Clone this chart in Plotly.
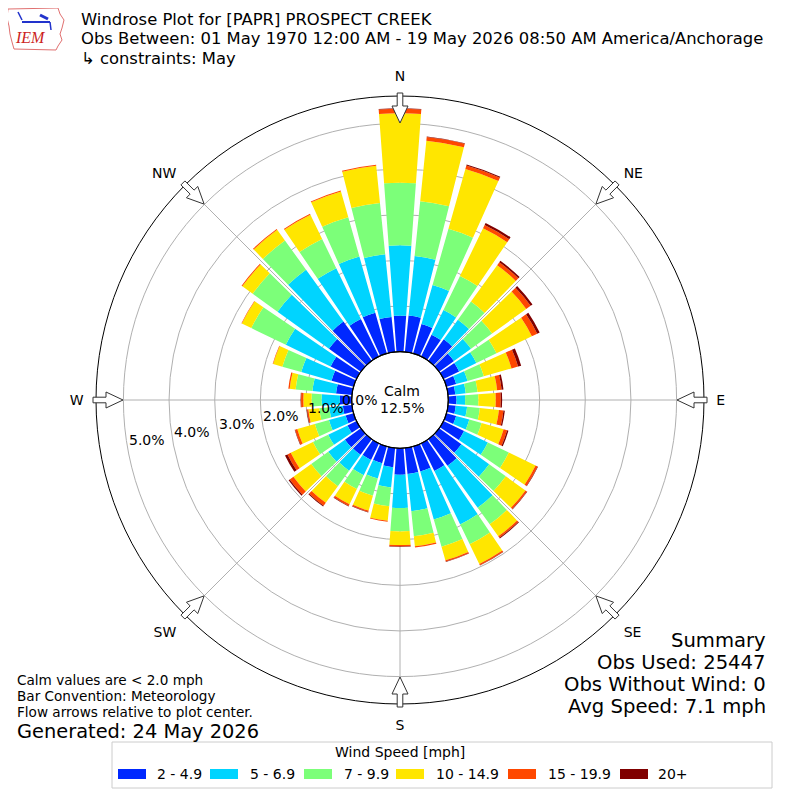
import plotly.graph_objects as go
import math

# ---------------- data ----------------
directions = list(range(0, 360, 10))
speed_bins = ["2 - 4.9", "5 - 6.9", "7 - 9.9", "10 - 14.9", "15 - 19.9", "20+"]
bin_colors = ["#0028ff", "#00d4ff", "#7cff79", "#ffe600", "#ff4800", "#800000"]

# percent frequency per direction (0..350 by 10) for each speed bin
freq_2_5 = [0.79, 0.80, 0.67, 0.53, 0.58, 0.40, 0.38, 0.22, 0.16, 0.18, 0.17, 0.22,
            0.50, 0.60, 0.72, 0.67, 0.57, 0.57, 0.58, 0.42, 0.38, 0.40, 0.42, 0.43,
            0.22, 0.18, 0.20, 0.26, 0.35, 0.50, 0.63, 0.86, 1.06, 0.91, 0.93, 0.77]
freq_5_7 = [1.54, 1.31, 0.89, 0.60, 0.53, 0.46, 0.42, 0.26, 0.23, 0.19, 0.25, 0.30,
            0.58, 0.75, 1.13, 1.30, 1.09, 0.82, 0.73, 0.45, 0.35, 0.37, 0.43, 0.45,
            0.47, 0.38, 0.30, 0.40, 0.52, 0.69, 1.09, 1.39, 1.40, 1.24, 1.28, 1.38]
freq_7_10 = [1.37, 1.21, 1.28, 0.83, 0.49, 0.57, 0.49, 0.37, 0.26, 0.29, 0.28, 0.28,
             0.51, 0.45, 0.45, 0.48, 0.62, 0.55, 0.51, 0.41, 0.39, 0.34, 0.42, 0.46,
             0.37, 0.32, 0.22, 0.22, 0.37, 0.43, 0.84, 0.67, 0.79, 0.71, 0.89, 1.13]
freq_10_15 = [1.52, 1.33, 1.36, 1.16, 0.98, 0.92, 0.86, 0.63, 0.43, 0.38, 0.42, 0.50,
              0.65, 0.53, 0.32, 0.48, 0.31, 0.22, 0.30, 0.32, 0.34, 0.37, 0.45, 0.48,
              0.54, 0.40, 0.24, 0.18, 0.13, 0.21, 0.23, 0.28, 0.29, 0.59, 0.59, 0.82]
freq_15_20 = [0.10, 0.08, 0.08, 0.08, 0.08, 0.12, 0.13, 0.15, 0.10, 0.11, 0.10, 0.08,
              0.05, 0.04, 0.04, 0.03, 0.03, 0.03, 0.03, 0.02, 0.03, 0.04, 0.08, 0.10,
              0.08, 0.05, 0.03, 0.05, 0.03, 0.01, 0.01, 0.02, 0.02, 0.02, 0.02, 0.02]
freq_20p = [0.01, 0.01, 0.02, 0.05, 0.04, 0.05, 0.06, 0.07, 0.04, 0.03, 0.03, 0.03,
            0.01, 0.01, 0.02, 0.01, 0.01, 0.00, 0.01, 0.00, 0.01, 0.01, 0.02, 0.03,
            0.06, 0.01, 0.01, 0.01, 0.00, 0.00, 0.00, 0.00, 0.00, 0.00, 0.00, 0.00]
series = [freq_2_5, freq_5_7, freq_7_10, freq_10_15, freq_15_20, freq_20p]

radial_ticks = [0, 1, 2, 3, 4, 5]
radial_ticktext = ["0.0%", "1.0%", "2.0%", "3.0%", "4.0%", "5.0%"]
compass_vals = [0, 45, 90, 135, 180, 225, 270, 315]
compass_text = ["N", "NE", "E", "SE", "S", "SW", "W", "NW"]

calm_pct = "12.5%"
title_lines = ["Windrose Plot for [PAPR] PROSPECT CREEK",
               "Obs Between: 01 May 1970 12:00 AM - 19 May 2026 08:50 AM America/Anchorage",
               "\u21b3 constraints: May"]
notes = ["Calm values are < 2.0 mph", "Bar Convention: Meteorology",
         "Flow arrows relative to plot center."]
generated = "Generated: 24 May 2026"
summary = ["Summary", "Obs Used: 25447", "Obs Without Wind: 0", "Avg Speed: 7.1 mph"]

# ---------------- layout geometry ----------------
W = H = 800
OFF = 8          # page body margin offset in the browser
CX, CY = 400, 400
R_OUT = 304.0
R_HOLE = 48.3
RMAX = 5.6
LABEL_ANGLE = 190.0   # direction of the radial tick labels (deg, ccw from east)
FONT = "DejaVu Sans"


def px(x):
    return (x - OFF) / W


def py(y):
    return 1 - (y - OFF) / H


fig = go.Figure()
for name, vals, col in zip(speed_bins, series, bin_colors):
    fig.add_trace(go.Barpolar(r=vals, theta=directions, name=name, width=8.4,
                              marker=dict(color=col, line=dict(width=0)),
                              showlegend=False))

shapes = []
annotations = []
# calm circle edge
shapes.append(dict(type="circle", xref="paper", yref="paper",
                   x0=px(CX - R_HOLE), x1=px(CX + R_HOLE),
                   y0=py(CY + R_HOLE), y1=py(CY - R_HOLE),
                   line=dict(color="black", width=1.2), layer="above"))

# radial tick labels placed from the radial scale (text starts at the tick radius)
ca, sa = math.cos(math.radians(LABEL_ANGLE)), math.sin(math.radians(LABEL_ANGLE))
for v, txt in zip(radial_ticks, radial_ticktext):
    rp = R_HOLE + v * (R_OUT - R_HOLE) / RMAX
    tx, ty = CX + rp * ca, CY - rp * sa
    if v == 0:
        tx -= 11  # keep clear of the calm text
    annotations.append(dict(x=px(tx), y=py(ty - 8), xref="paper", yref="paper",
                            text=txt, showarrow=False, xanchor="left", yanchor="middle",
                            borderpad=0,
                            font=dict(size=14, family=FONT, color="black")))

# flow arrows
r_tail, r_base, r_tip = 307.0, 294.0, 277.0
w_s, w_h = 2.8, 8.0
for a in compass_vals:
    t = math.radians(a)
    ux, uy = math.sin(t), -math.cos(t)
    vx, vy = math.cos(t), math.sin(t)

    def P(r, w):
        return (CX + ux * r + vx * w, CY + uy * r + vy * w)
    pts = [P(r_tail, w_s), P(r_base, w_s), P(r_base, w_h), P(r_tip, 0),
           P(r_base, -w_h), P(r_base, -w_s), P(r_tail, -w_s)]
    path = "M " + " L ".join(f"{px(x):.5f},{py(y):.5f}" for x, y in pts) + " Z"
    shapes.append(dict(type="path", xref="paper", yref="paper", path=path,
                       fillcolor="white", line=dict(color="#333333", width=1),
                       layer="above"))

# legend box and swatches
shapes.append(dict(type="rect", xref="paper", yref="paper",
                   x0=px(112), x1=px(772), y0=py(788), y1=py(742),
                   line=dict(color="#cccccc", width=1), fillcolor="white",
                   layer="above"))
sw_x = [118, 210, 304, 396, 508, 620]
lab_x = [155, 248, 342, 434, 546, 656]
for sx, lx, name, col in zip(sw_x, lab_x, speed_bins, bin_colors):
    shapes.append(dict(type="rect", xref="paper", yref="paper",
                       x0=px(sx), x1=px(sx + 28), y0=py(779), y1=py(769),
                       line=dict(width=0), fillcolor=col, layer="above"))
    annotations.append(dict(x=px(lx), y=py(774), xref="paper", yref="paper",
                            text=name, showarrow=False, xanchor="left",
                            yanchor="middle", font=dict(size=14, family=FONT, color="black")))
annotations.append(dict(x=px(400), y=py(752), xref="paper", yref="paper",
                        text="Wind Speed [mph]", showarrow=False, xanchor="center",
                        yanchor="middle", font=dict(size=14, family=FONT, color="black")))

# IEM logo (approximate)
logo = [(8, 9), (58, 8), (60, 14), (64, 20), (62, 28), (60, 34), (62, 40), (58, 46),
        (56, 50), (14, 49), (12, 42), (10, 34), (9, 26), (7, 18)]
shapes.append(dict(type="path", xref="paper", yref="paper",
                   path="M " + " L ".join(f"{px(x):.5f},{py(y):.5f}" for x, y in logo) + " Z",
                   line=dict(color="#e07070", width=1), fillcolor="white"))
shapes.append(dict(type="line", xref="paper", yref="paper", x0=px(22), x1=px(50),
                   y0=py(22), y1=py(22), line=dict(color="#2233cc", width=2)))
shapes.append(dict(type="line", xref="paper", yref="paper", x0=px(40), x1=px(48),
                   y0=py(15), y1=py(19), line=dict(color="#2233cc", width=3)))
shapes.append(dict(type="line", xref="paper", yref="paper", x0=px(18), x1=px(22),
                   y0=py(12), y1=py(20), line=dict(color="#2233cc", width=1.5)))
shapes.append(dict(type="line", xref="paper", yref="paper", x0=px(50), x1=px(51),
                   y0=py(22), y1=py(30), line=dict(color="#2233cc", width=1.5)))
annotations.append(dict(x=px(30), y=py(38), xref="paper", yref="paper", text="<i>IEM</i>",
                        showarrow=False, xanchor="center", yanchor="middle",
                        font=dict(size=16, family="Liberation Serif", color="#cc2222")))

# titles
for i, line in enumerate(title_lines):
    annotations.append(dict(x=px(80), y=py(19 + 19.6 * i), xref="paper", yref="paper",
                            text=line, showarrow=False, xanchor="left", yanchor="middle",
                            borderpad=0,
                            font=dict(size=16.4, family=FONT, color="black")))
# calm
annotations.append(dict(x=px(402), y=py(391), xref="paper", yref="paper", text="Calm",
                        showarrow=False, xanchor="center", yanchor="middle", borderpad=0,
                        font=dict(size=14, family=FONT, color="black")))
annotations.append(dict(x=px(402), y=py(408), xref="paper", yref="paper", text=calm_pct,
                        showarrow=False, xanchor="center", yanchor="middle", borderpad=0,
                        font=dict(size=14, family=FONT, color="black")))
# notes
for i, line in enumerate(notes):
    annotations.append(dict(x=px(15), y=py(680 + 16 * i), xref="paper", yref="paper",
                            text=line, showarrow=False, xanchor="left", yanchor="middle",
                            font=dict(size=13.6, family=FONT, color="black")))
annotations.append(dict(x=px(15), y=py(731), xref="paper", yref="paper", text=generated,
                        showarrow=False, xanchor="left", yanchor="middle",
                        font=dict(size=19.4, family=FONT, color="black")))
for i, line in enumerate(summary):
    annotations.append(dict(x=px(768), y=py(640 + 22 * i), xref="paper", yref="paper",
                            text=line, showarrow=False, xanchor="right", yanchor="middle",
                            font=dict(size=19.6, family=FONT, color="black")))

fig.update_layout(
    width=W, height=H, margin=dict(l=0, r=0, t=0, b=0),
    paper_bgcolor="white", font=dict(family=FONT, color="black"),
    showlegend=False,
    polar=dict(
        domain=dict(x=[px(CX - R_OUT), px(CX + R_OUT)], y=[py(CY + R_OUT), py(CY - R_OUT)]),
        hole=R_HOLE / R_OUT, bgcolor="white", barmode="stack",
        radialaxis=dict(range=[0, RMAX], tickvals=radial_ticks, ticktext=radial_ticktext,
                        showticklabels=False, showline=False, ticks="",
                        gridcolor="#b0b0b0", gridwidth=1, angle=LABEL_ANGLE,
                        layer="above traces"),
        angularaxis=dict(rotation=90, direction="clockwise", tickmode="array",
                         tickvals=compass_vals, ticktext=compass_text,
                         showline=True, linecolor="black", linewidth=1,
                         gridcolor="#b0b0b0", gridwidth=1, ticks="outside", ticklen=9,
                         tickcolor="rgba(0,0,0,0)",
                         layer="above traces",
                         tickfont=dict(size=14, family=FONT, color="black")),
    ),
    shapes=shapes, annotations=annotations,
)
fig.write_html("out.html")
